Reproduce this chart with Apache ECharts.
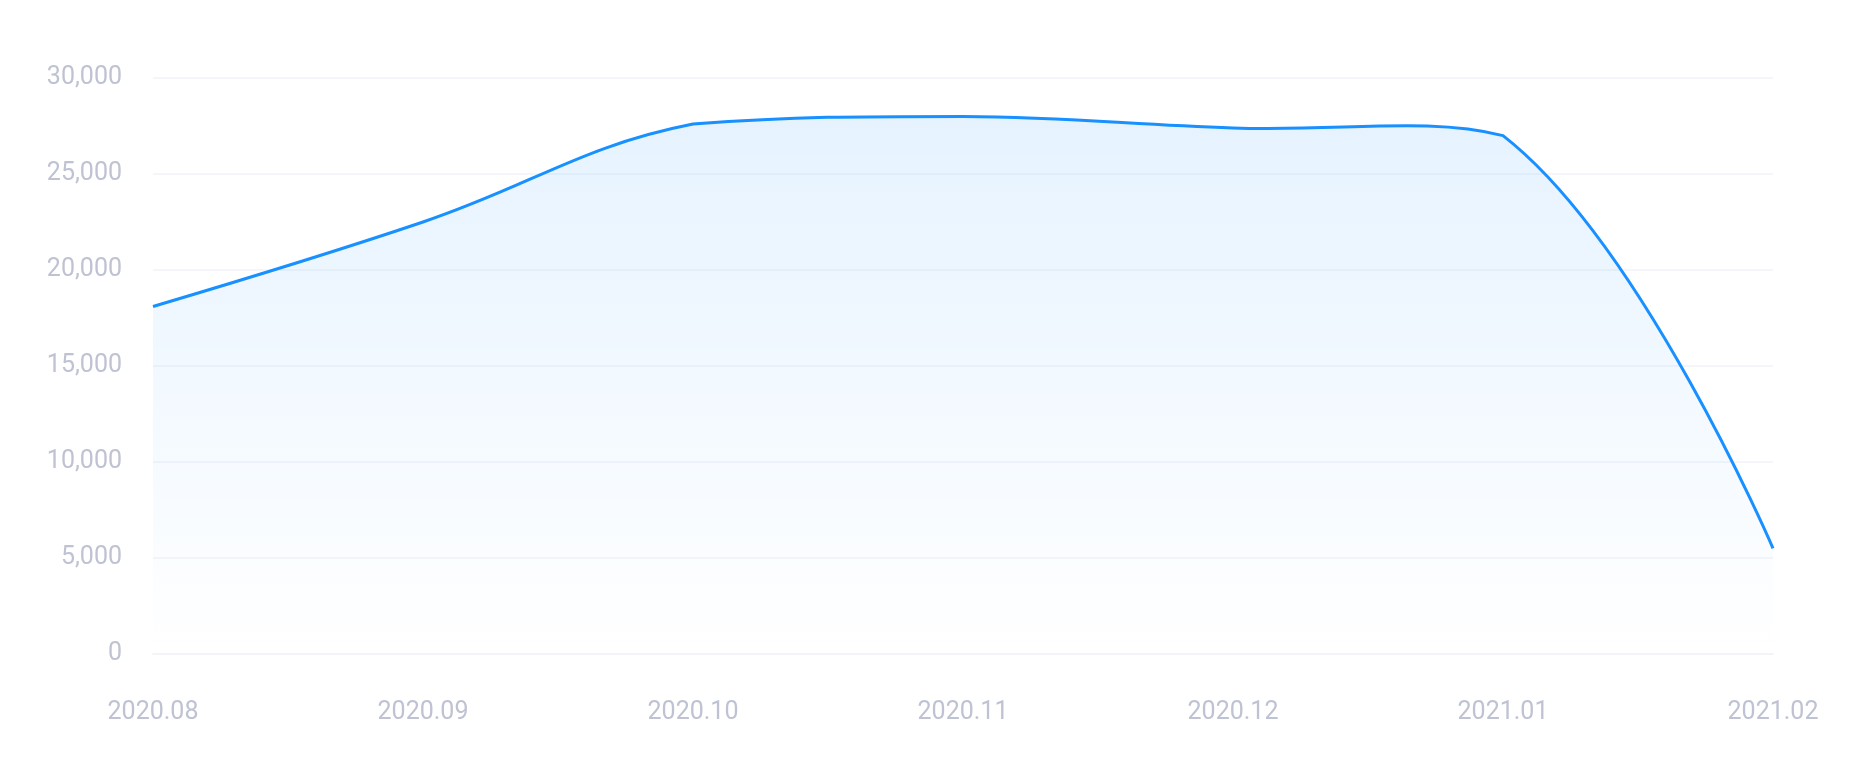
<!DOCTYPE html>
<html>
<head>
<meta charset="utf-8">
<script src="https://cdn.jsdelivr.net/npm/echarts@6/dist/echarts.min.js"></script>
<style>
  html, body { margin: 0; padding: 0; background: #fff; }
  #chart { width: 1867px; height: 779px; }
</style>
</head>
<body>
<div id="chart"></div>
<script>
var months = ["2020.08", "2020.09", "2020.10", "2020.11", "2020.12", "2021.01", "2021.02"];
var counts = [18100, 22500, 27600, 28000, 27400, 27000, 5500];
var yTicks = { min: 0, max: 30000, interval: 5000 };

var fontColor = "#bfc2d2";
var lineColor = "#1890ff";

// catmull-rom style smoothing, control points kept inside the points' box
function splinePath(pts) {
  var minX = Infinity, minY = Infinity, maxX = -Infinity, maxY = -Infinity;
  pts.forEach(function (p) {
    minX = Math.min(minX, p[0]); maxX = Math.max(maxX, p[0]);
    minY = Math.min(minY, p[1]); maxY = Math.max(maxY, p[1]);
  });
  var clamp = function (p) {
    return [Math.min(Math.max(p[0], minX), maxX), Math.min(Math.max(p[1], minY), maxY)];
  };
  var cps = [];
  for (var i = 0; i < pts.length; i++) {
    var p = pts[i];
    if (i === 0 || i === pts.length - 1) { cps.push(p); continue; }
    var a = pts[i - 1], b = pts[i + 1];
    var vx = (b[0] - a[0]) * 0.4, vy = (b[1] - a[1]) * 0.4;
    var d0 = Math.hypot(p[0] - a[0], p[1] - a[1]);
    var d1 = Math.hypot(p[0] - b[0], p[1] - b[1]);
    var s = d0 + d1;
    if (s) { d0 /= s; d1 /= s; }
    cps.push(clamp([p[0] - vx * d0, p[1] - vy * d0]));
    cps.push(clamp([p[0] + vx * d1, p[1] + vy * d1]));
  }
  var d = "M" + pts[0][0] + "," + pts[0][1];
  for (var j = 0; j < pts.length - 1; j++) {
    var c1 = cps[j * 2], c2 = cps[j * 2 + 1], q = pts[j + 1];
    d += "C" + c1[0] + "," + c1[1] + "," + c2[0] + "," + c2[1] + "," + q[0] + "," + q[1];
  }
  return d;
}

var myChart = echarts.init(document.getElementById("chart"));

var option = {
  backgroundColor: "#fff",
  grid: {
    left: 153,
    right: 94,
    top: 78,
    bottom: 125
  },
  xAxis: {
    type: "category",
    boundaryGap: false,
    data: months,
    axisLine: { show: true, lineStyle: { color: "#f3f4f7", width: 2 } },
    axisTick: { show: false },
    axisLabel: {
      color: fontColor,
      fontSize: 25,
      fontFamily: "Roboto, sans-serif",
      margin: 46
    },
    splitLine: { show: false }
  },
  yAxis: {
    type: "value",
    min: yTicks.min,
    max: yTicks.max,
    interval: yTicks.interval,
    axisLine: { show: false },
    axisTick: { show: false },
    axisLabel: {
      color: fontColor,
      fontSize: 25,
      fontFamily: "Roboto, sans-serif",
      margin: 31,
      formatter: function (v) { return v.toLocaleString("en-US"); }
    },
    splitLine: { show: true, lineStyle: { color: "#f5f6f9", width: 2 } }
  },
  series: [
    {
      type: "custom",
      data: counts.map(function (v, i) { return [i, v]; }),
      encode: { x: 0, y: 1 },
      renderItem: function (params, api) {
        if (params.dataIndex !== 0) return null;
        var pts = counts.map(function (v, i) { return api.coord([i, v]); });
        var base = api.coord([0, yTicks.min])[1];
        var line = splinePath(pts);
        var last = pts[pts.length - 1];
        var area = line + "L" + last[0] + "," + base + "L" + pts[0][0] + "," + base + "Z";
        return {
          type: "group",
          children: [
            {
              type: "path",
              shape: { pathData: area },
              style: {
                fill: new echarts.graphic.LinearGradient(0, 0, 0, 1, [
                  { offset: 0, color: "rgba(24,144,255,0.11)" },
                  { offset: 1, color: "rgba(24,144,255,0)" }
                ]),
                stroke: null
              }
            },
            {
              type: "path",
              shape: { pathData: line },
              style: { fill: null, stroke: lineColor, lineWidth: 3 }
            }
          ]
        };
      }
    }
  ]
};

myChart.setOption(option);
window.addEventListener("resize", function () {
  myChart.resize();
});
</script>
</body>
</html>
